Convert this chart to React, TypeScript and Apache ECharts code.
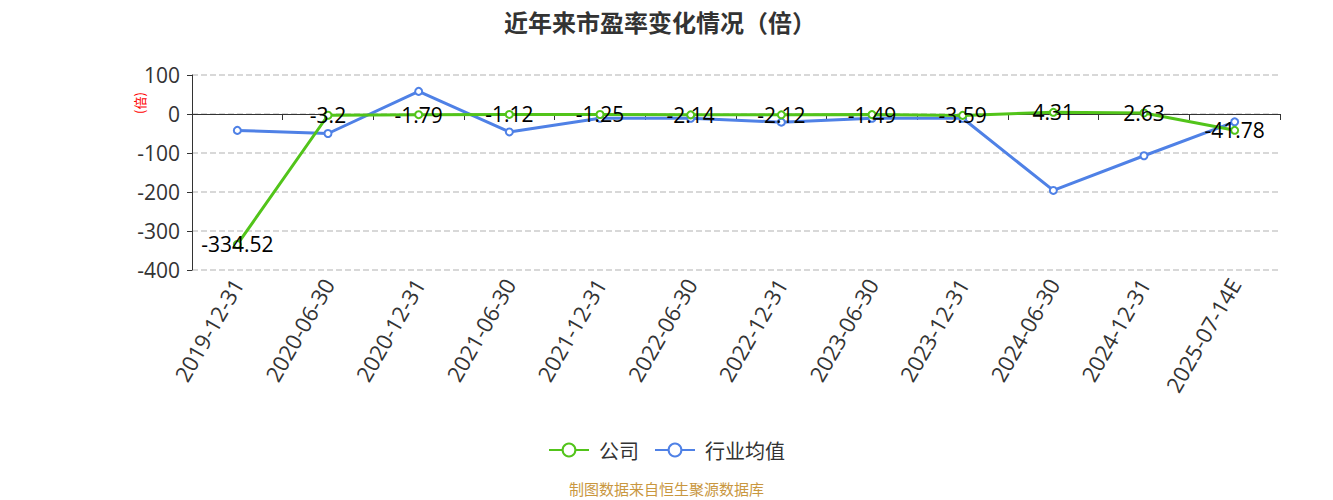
import React, { useEffect, useRef } from "react";
import * as echarts from "echarts";

const categories = [
  "2019-12-31", "2020-06-30", "2020-12-31", "2021-06-30", "2021-12-31", "2022-06-30",
  "2022-12-31", "2023-06-30", "2023-12-31", "2024-06-30", "2024-12-31", "2025-07-14E",
];
const companyValues = [-334.52, -3.2, -1.79, -1.12, -1.25, -2.14, -2.12, -1.49, -3.59, 4.31, 2.63, -41.78];
const industryValues = [-42, -50, 58, -46, -11, -11, -21, -11, -11, -196, -107, -20];
const yTicks = { min: -400, max: 100, interval: 100 };

const CJK = '"Noto Sans CJK SC", "Noto Sans", sans-serif';
const NUM = '"Open Sans", "Noto Sans CJK SC", sans-serif';

export default function App() {
  const ref = useRef<HTMLDivElement>(null);
  useEffect(() => {
    if (!ref.current) return;
    const chart = echarts.init(ref.current, undefined, { renderer: "svg" });
    chart.setOption({
      animation: false,
      textStyle: { fontFamily: CJK },
      title: {
        text: "近年来市盈率变化情况（倍）",
        left: 499,
        top: 4,
        textStyle: { fontSize: 24, fontWeight: "bold", color: "#333", fontFamily: CJK },
      },
      grid: { left: 192, right: 53, top: 75, bottom: 230 },
      legend: {
        top: 435,
        left: "center",
        itemWidth: 40,
        itemHeight: 16,
        itemGap: 15,
        textStyle: { fontSize: 20, color: "#333", fontFamily: CJK, padding: [0, 0, 0, 5] },
        data: ["公司", "行业均值"],
      },
      xAxis: [
        {
          type: "category",
          data: categories,
          position: "bottom",
          axisLine: { show: false, onZero: false },
          axisTick: { show: false },
          axisLabel: { rotate: 60, fontSize: 22, color: "#333", margin: 10, fontFamily: NUM },
        },
        {
          type: "category",
          data: categories,
          position: "bottom",
          axisLine: { show: true, onZero: true, lineStyle: { color: "#333" } },
          axisTick: { show: true, length: 6 },
          axisLabel: { show: false },
        },
      ],
      yAxis: {
        type: "value",
        min: yTicks.min,
        max: yTicks.max,
        interval: yTicks.interval,
        axisLine: { show: true, lineStyle: { color: "#333" } },
        axisTick: { show: true },
        axisLabel: { fontSize: 21, color: "#333", fontFamily: NUM, margin: 12 },
        splitLine: { show: true, lineStyle: { type: "dashed", color: "#ccc", width: 1.5 } },
      },
      graphic: [
        {
          type: "text",
          x: 133,
          y: 114,
          rotation: Math.PI / 2,
          style: { text: "(倍)", fill: "#ff0000", fontSize: 13, fontFamily: CJK },
        },
        {
          type: "text",
          left: "center",
          top: 481,
          style: { text: "制图数据来自恒生聚源数据库", fill: "#C9973F", fontSize: 15, fontFamily: CJK },
        },
      ],
      series: [
        {
          name: "公司",
          type: "line",
          data: companyValues,
          symbol: "emptyCircle",
          symbolSize: 7,
          itemStyle: { color: "#52C41A" },
          lineStyle: { width: 3, color: "#52C41A" },
          label: {
            show: true,
            position: "inside",
            fontSize: 21,
            color: "#000",
            fontFamily: NUM,
          },
          z: 3,
        },
        {
          name: "行业均值",
          type: "line",
          data: industryValues,
          symbol: "emptyCircle",
          symbolSize: 7,
          itemStyle: { color: "#4F81E6" },
          lineStyle: { width: 3, color: "#4F81E6" },
          z: 2,
        },
      ],
    });
    return () => chart.dispose();
  }, []);
  return (
    <div
      ref={ref}
      style={{ position: "absolute", left: 0, top: 0, width: 1333, height: 500 }}
    />
  );
}
